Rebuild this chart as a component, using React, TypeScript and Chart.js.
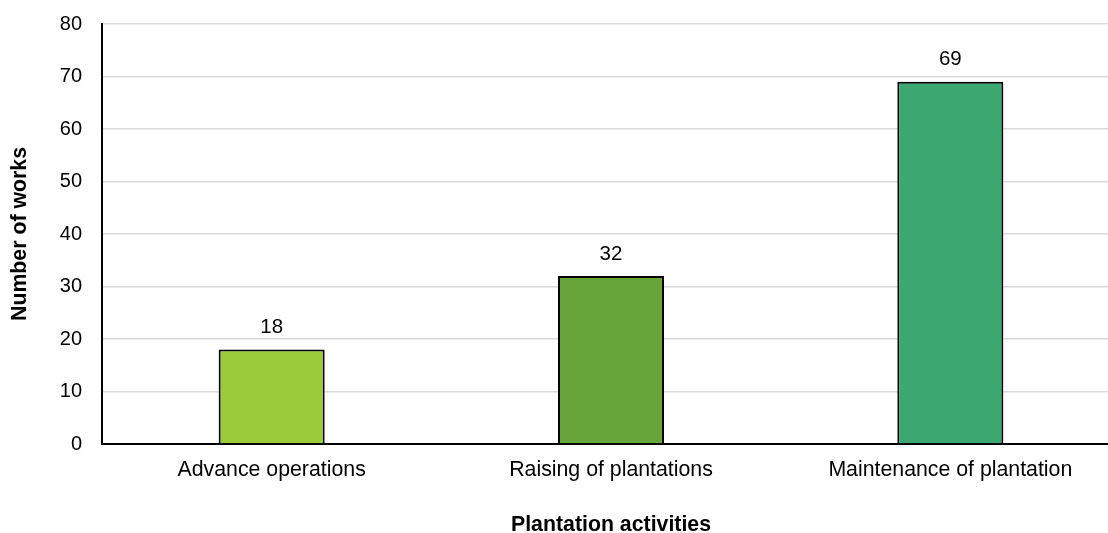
import React, { useEffect, useRef } from "react";
import { Chart, registerables } from "chart.js";

Chart.register(...registerables);

const categories = ["Advance operations", "Raising of plantations", "Maintenance of plantation"];
const works = [18, 32, 69];
const barColors = ["#9BCA3B", "#65A53A", "#3AA870"];
const yTicks = [0, 10, 20, 30, 40, 50, 60, 70, 80];

const FONT = "'Liberation Sans', Arial, Helvetica, sans-serif";

const valueLabels = {
  id: "valueLabels",
  afterDatasetsDraw(chart: any) {
    const ctx = chart.ctx;
    const meta = chart.getDatasetMeta(0);
    ctx.save();
    ctx.font = `20.5px ${FONT}`;
    ctx.fillStyle = "#000";
    ctx.textAlign = "center";
    ctx.textBaseline = "alphabetic";
    meta.data.forEach((bar: any, i: number) => {
      ctx.fillText(String(works[i]), bar.x, bar.y - 16.5);
    });
    ctx.restore();
  },
};

export default function App() {
  const ref = useRef<HTMLCanvasElement | null>(null);
  useEffect(() => {
    document.body.style.margin = "0";
    document.body.style.overflow = "hidden";
    const chart = new Chart(ref.current as HTMLCanvasElement, {
      type: "bar",
      data: {
        labels: categories,
        datasets: [
          {
            data: works,
            backgroundColor: barColors,
            borderColor: "#000",
            borderWidth: 2,
            categoryPercentage: 1,
            barPercentage: 0.3125,
          },
        ],
      },
      options: {
        responsive: false,
        animation: false,
        devicePixelRatio: 1,
        layout: { padding: { top: 24, right: 0, bottom: 0, left: 0 } },
        plugins: { legend: { display: false }, tooltip: { enabled: false } },
        scales: {
          x: {
            grid: { display: false, drawTicks: false },
            border: { display: true, color: "#000", width: 2 },
            ticks: { color: "#000", font: { family: FONT, size: 21.3 }, padding: 13, maxRotation: 0 },
            title: {
              display: true,
              text: "Plantation activities",
              color: "#000",
              font: { family: FONT, size: 21.3, weight: "bold", lineHeight: 0.75 },
              padding: { top: 0, bottom: 0 },
            },
            afterFit(scale: any) {
              scale.height = 89;
              scale.paddingLeft = 0;
              scale.paddingRight = 0;
            },
          },
          y: {
            min: 0,
            max: 80,
            afterBuildTicks(scale: any) {
              scale.ticks = yTicks.map((v) => ({ value: v }));
            },
            grid: {
              drawTicks: false,
              color: (c: any) => (c.tick && c.tick.value === 0 ? "rgba(0,0,0,0)" : "#d9d9d9"),
              lineWidth: 1.5,
            },
            border: { display: true, color: "#000", width: 2 },
            ticks: { color: "#000", font: { family: FONT, size: 20 }, padding: 20 },
            title: {
              display: true,
              text: "Number of works",
              color: "#000",
              font: { family: FONT, size: 21.3, weight: "bold", lineHeight: 1.2 },
              padding: { top: 7.5, bottom: 0 },
            },
            afterFit(scale: any) {
              scale.width = 102;
              scale.paddingTop = 0;
              scale.paddingBottom = 0;
            },
          },
        },
      },
      plugins: [valueLabels],
    });
    return () => chart.destroy();
  }, []);
  return (
    <div style={{ position: "fixed", left: 0, top: 0, width: 1108, height: 533, overflow: "hidden", background: "#fff" }}>
      <canvas ref={ref} width={1120} height={533} style={{ width: 1120, height: 533, display: "block" }} />
    </div>
  );
}
